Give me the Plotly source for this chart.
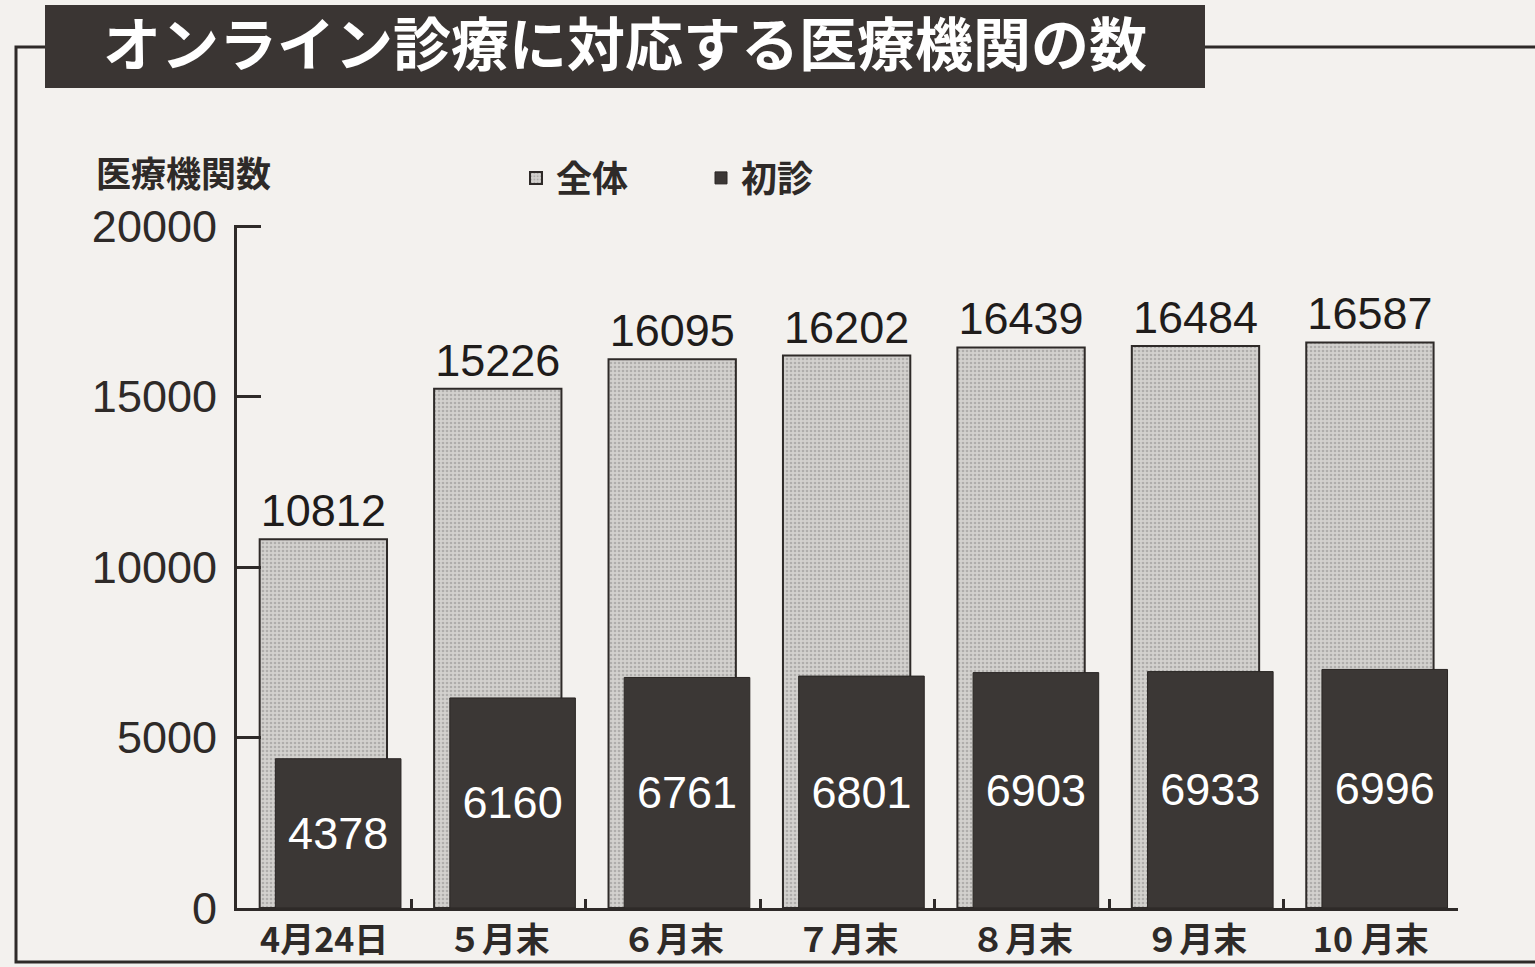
import plotly.graph_objects as go

categories = ["4月24日", "５月末", "６月末", "７月末", "８月末", "９月末", "10 月末"]
total_vals = [10812, 15226, 16095, 16202, 16439, 16484, 16587]
first_vals = [4378, 6160, 6761, 6801, 6903, 6933, 6996]
y_ticks = [0, 5000, 10000, 15000, 20000]

title_text = "オンライン診療に対応する医療機関の数"
y_title = "医療機関数"

W, H = 1535, 967
L, R, T, B = 237, 1458, 225, 908


def px_x(x):
    return (x - L) / (R - L)


def px_y(y):
    return (B - y) / (B - T)


NUM = "Liberation Sans, Arial, Helvetica, sans-serif"
CJK = "Noto Sans CJK JP, sans-serif"
INK = "#2e2a28"
PAPER = "#f3f1ee"

fig = go.Figure()
fig.add_trace(go.Bar(
    x=categories, y=total_vals, name="全体",
    offset=-0.37, width=0.73,
    marker=dict(color="#c2c0bd", line=dict(color=INK, width=2),
                pattern=dict(shape=".", fgcolor="#8c8a87", bgcolor="#d3d1ce", size=4, solidity=0.35)),
    text=[str(v) for v in total_vals], textposition="outside", textangle=0,
    textfont=dict(family=NUM, size=45, color="#1f1c1b"),
    cliponaxis=False, constraintext="none",
))
fig.add_trace(go.Bar(
    x=categories, y=first_vals, name="初診",
    offset=-0.28, width=0.72,
    marker=dict(color="#3b3735", line=dict(color="#2a2624", width=1)),
    text=[str(v) for v in first_vals], textposition="inside", insidetextanchor="middle", textangle=0,
    textfont=dict(family=NUM, size=45, color="#ffffff"),
    cliponaxis=False, constraintext="none",
))

fig.update_layout(
    width=W, height=H,
    margin=dict(l=L, r=W - R, t=T, b=H - B, pad=0, autoexpand=False),
    paper_bgcolor=PAPER, plot_bgcolor=PAPER,
    barmode="overlay",
    showlegend=True,
    legend=dict(orientation="h", x=px_x(516), y=px_y(178), xanchor="left", yanchor="middle",
                font=dict(family=CJK, size=36, color=INK, weight="bold"), entrywidth=140,
                entrywidthmode="pixels", bgcolor="rgba(0,0,0,0)", traceorder="normal"),
    title=dict(text=title_text, x=(625) / W, xanchor="center", y=1 - 46 / H, yanchor="middle",
               font=dict(family=CJK, size=58, color="#ffffff", weight="bold")),
    xaxis=dict(type="category", showline=True, linecolor=INK, linewidth=3, automargin=False,
               ticks="inside", tickson="boundaries", ticklen=9, tickwidth=3, tickcolor=INK,
               tickfont=dict(family=CJK, size=34, color=INK, weight="bold"), showgrid=False,
               range=[-0.5, 6.5]),
    yaxis=dict(range=[0, 20030], tickvals=y_ticks, ticktext=[str(v) for v in y_ticks],
               showline=True, linecolor=INK, linewidth=3, automargin=False,
               ticks="inside", ticklen=24, tickwidth=3, tickcolor=INK,
               tickfont=dict(family=NUM, size=45, color=INK), ticklabelstandoff=8,
               showgrid=False, zeroline=False),
    shapes=[
        dict(type="rect", xref="paper", yref="paper", x0=px_x(16), x1=px_x(1540), y0=px_y(962), y1=px_y(47),
             line=dict(color=INK, width=3), fillcolor="rgba(0,0,0,0)", layer="below"),
        dict(type="rect", xref="paper", yref="paper", x0=px_x(45), x1=px_x(1205), y0=px_y(88), y1=px_y(5),
             line=dict(width=0), fillcolor="#3a3533", layer="below"),
    ],
    annotations=[
        dict(text=y_title, xref="paper", yref="paper", x=px_x(183), y=px_y(172), xanchor="center",
             yanchor="middle", showarrow=False, font=dict(family=CJK, size=35, color=INK, weight="bold")),
    ],
)

fig.write_html(
    "out.html",
    config={"displayModeBar": False},
    post_script="document.body.style.margin='0';document.body.style.background='#f3f1ee';document.body.style.overflow='hidden';",
)
